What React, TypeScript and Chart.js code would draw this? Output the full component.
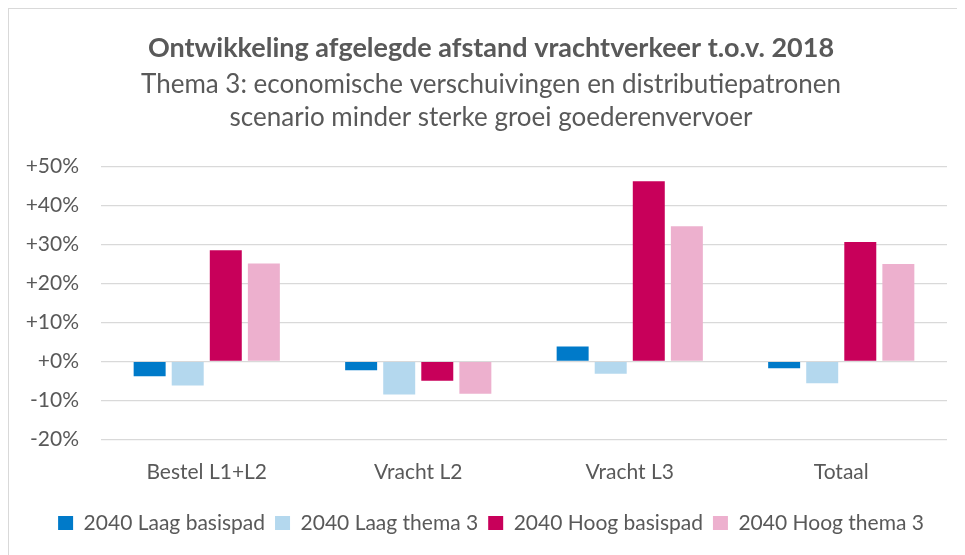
import React, { useEffect, useRef } from "react";
import { Chart, registerables } from "chart.js";

Chart.register(...registerables);

const categories = ["Bestel L1+L2", "Vracht L2", "Vracht L3", "Totaal"];
const seriesNames = [
  "2040 Laag basispad",
  "2040 Laag thema 3",
  "2040 Hoog basispad",
  "2040 Hoog thema 3",
];
const laagBasispad = [-3.8, -2.3, 3.8, -1.8];
const laagThema3 = [-6.2, -8.5, -3.2, -5.6];
const hoogBasispad = [28.5, -5.0, 46.2, 30.6];
const hoogThema3 = [25.1, -8.3, 34.7, 25.0];
const seriesColors = ["#007AC9", "#B4D8EE", "#C8005A", "#EDB0CE"];

const titleText = "Ontwikkeling afgelegde afstand vrachtverkeer t.o.v. 2018";
const subtitleLines = [
  "Thema 3: economische verschuivingen en distributiepatronen",
  "scenario minder sterke groei goederenvervoer",
];
const yMin = -20;
const yMax = 50;
const yStep = 10;

const FONT = "Lato, 'Noto Sans', sans-serif";
const TEXT = "#595959";
const TICK_GAP = 22;

const fmtPct = (v: any) => (Number(v) >= 0 ? "+" + v + "%" : v + "%");

export default function App() {
  const ref = useRef<HTMLCanvasElement | null>(null);

  useEffect(() => {
    if (!ref.current) return;
    const seriesValues = [laagBasispad, laagThema3, hoogBasispad, hoogThema3];
    const chart = new Chart(ref.current, {
      type: "bar",
      data: {
        labels: categories,
        datasets: seriesNames.map((name, i) => ({
          label: name,
          data: seriesValues[i],
          backgroundColor: seriesColors[i],
          borderWidth: 0,
          categoryPercentage: 0.72,
          barPercentage: 0.84,
        })),
      },
      options: {
        animation: false,
        responsive: true,
        maintainAspectRatio: false,
        layout: { padding: { left: 26, right: 18, top: 0, bottom: 11.5 } },
        plugins: {
          title: {
            display: true,
            text: titleText,
            color: TEXT,
            font: { family: FONT, size: 27, weight: "bold", lineHeight: 1.2 },
            padding: { top: 22.8, bottom: 0 },
          },
          subtitle: {
            display: true,
            text: subtitleLines,
            color: TEXT,
            font: { family: FONT, size: 26, weight: "normal", lineHeight: "33px" },
            padding: { top: 4.3, bottom: 32 },
          },
          legend: {
            position: "bottom",
            labels: {
              color: TEXT,
              font: { family: FONT, size: 21 },
              boxWidth: 15,
              boxHeight: 14,
              padding: 10,
            },
          },
          tooltip: { enabled: false },
        },
        scales: {
          x: {
            grid: { display: false, drawTicks: false },
            border: { display: false },
            ticks: {
              color: TEXT,
              font: { family: FONT, size: 21 },
              padding: 20,
            },
            afterFit: (scale: any) => {
              scale.height = 63.2;
            },
          },
          y: {
            min: yMin,
            max: yMax,
            grid: { color: "#D9D9D9", lineWidth: 1.3, drawTicks: false },
            border: { display: false },
            ticks: {
              stepSize: yStep,
              color: TEXT,
              font: { family: FONT, size: 21 },
              mirror: true,
              crossAlign: "far",
              padding: -TICK_GAP,
              callback: fmtPct,
            },
            afterFit: (scale: any) => {
              scale.width = 66;
              const ctx = scale.ctx as CanvasRenderingContext2D;
              ctx.save();
              ctx.font = "21px " + FONT;
              let widest = 0;
              (scale.ticks || []).forEach((t: any) => {
                const w = ctx.measureText(String(fmtPct(t.value))).width;
                if (w > widest) widest = w;
              });
              ctx.restore();
              try {
                scale.options.ticks.padding = -(TICK_GAP + widest);
              } catch (e) {
                /* ignore */
              }
            },
          },
        },
      },
    });
    return () => chart.destroy();
  }, []);

  return (
    <div
      style={{
        position: "relative",
        boxSizing: "border-box",
        width: 957,
        height: 547,
        borderTop: "1px solid #D9D9D9",
        borderLeft: "1px solid #D9D9D9",
        background: "#fff",
      }}
    >
      <canvas ref={ref} />
    </div>
  );
}
